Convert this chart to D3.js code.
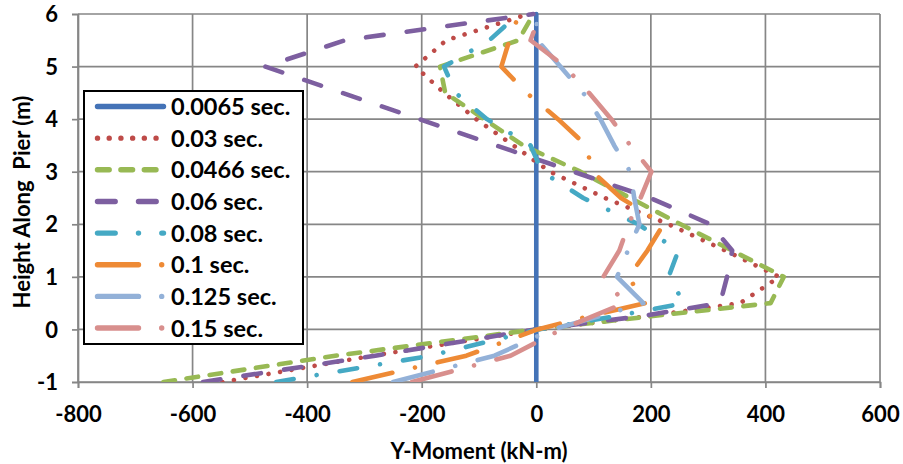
<!DOCTYPE html>
<html>
<head>
<meta charset="utf-8">
<script src="https://cdn.jsdelivr.net/npm/d3@7"></script>
<style>
  html, body { margin: 0; padding: 0; background: #fff; }
  svg { display: block; }
  text { font-family: Lato, "Open Sans", "Liberation Sans", sans-serif; font-weight: bold; fill: #000; }
</style>
</head>
<body>
<svg id="chart" width="903" height="464"></svg>
<script>
// ---------- data ----------
const heights = [-1, -0.5, 0, 0.25, 0.5, 1, 1.5, 2, 2.5, 3, 3.5, 4, 4.5, 5, 5.5, 6];
const seriesNames = ["0.0065 sec.", "0.03 sec.", "0.0466 sec.", "0.06 sec.", "0.08 sec.", "0.1 sec.", "0.125 sec.", "0.15 sec."];
const m0065 = [0, 0, 0, 0, 0, 0, 0, 0, 0, 0, 0, 0, 0, 0, 0, 0];
const m003  = [-548, -286, 2, 194, 356, 424, 330, 231, 120, 24, -40, -105, -161, -211, -157, -14];
const m0466 = [-651, -351, -2, 200, 409, 432, 342, 252, 164, 77, -23, -91, -159, -168, -31, -5];
const m006  = [-582, -281, -2, 182, 321, 333, 342, 304, 199, 65, -70, -204, -339, -473, -334, -5];
const m008  = [-454, -185, 3, 138, 258, 231, 248, 178, 82, 10, -10, -86, -141, -161, -82, -31];
const m01   = [-321, -122, 2, 91, 190, 161, 194, 222, 148, 98, 87, 38, -17, -61, -47, -30];
const m0125 = [-250, -73, 28, 110, 187, 141, 160, 180, 171, 164, 136, 112, 82, 42, 2, 0];
const m015  = [-217, -45, 44, 98, 154, 117, 145, 161, 182, 201, 164, 131, 92, 50, -10, 7];
const seriesValues = [m0065, m003, m0466, m006, m008, m01, m0125, m015];
const xTicks = [-800, -600, -400, -200, 0, 200, 400, 600];
const yTicks = [-1, 0, 1, 2, 3, 4, 5, 6];

// ---------- styles ----------
const colors = ["#4473B7", "#BE4B48", "#98B954", "#7D5FA0", "#45A9C4", "#EE8A35", "#93B1D8", "#D88F8D"];
const dashes = [null, "0.01,11.7", "11.7,11.7", "17.7,23.3", "17.7,23.3,0.01,23.3",
                "41,23.2,0.01,23.2", "41,23.2,0.01,23.2", "41,23.2,0.01,23.2"];
const lineW = 4.6;

const svg = d3.select("#chart");
const L = 78, R = 880, T = 14, B = 382;
const x = d3.scaleLinear().domain([-800, 600]).range([L, R]);
const y = d3.scaleLinear().domain([-1, 6]).range([B, T]);
const gridColor = "#868686";

// gridlines
const grid = svg.append("g");
grid.selectAll("line.v").data(xTicks).enter().append("line")
  .attr("x1", d => x(d)).attr("x2", d => x(d)).attr("y1", T).attr("y2", B)
  .attr("stroke", gridColor).attr("stroke-width", 1.7);
grid.selectAll("line.h").data(yTicks).enter().append("line")
  .attr("x1", L).attr("x2", R).attr("y1", d => y(d)).attr("y2", d => y(d))
  .attr("stroke", gridColor).attr("stroke-width", 1.7);

// axes
const fmt = d => String(d);
const xAxis = d3.axisBottom(x).tickValues(xTicks).tickSize(6).tickPadding(15).tickFormat(fmt);
const yAxis = d3.axisLeft(y).tickValues(yTicks).tickSize(6).tickPadding(14).tickFormat(fmt);
const gx = svg.append("g").attr("transform", `translate(0,${B})`).call(xAxis);
const gy = svg.append("g").attr("transform", `translate(${L},0)`).call(yAxis);
[gx, gy].forEach(g => {
  g.select(".domain").attr("stroke", gridColor).attr("stroke-width", 1.7);
  g.selectAll(".tick line").attr("stroke", gridColor).attr("stroke-width", 1.7);
  g.selectAll(".tick text").style("font-family", "Lato, 'Open Sans', sans-serif")
    .style("font-weight", "bold").style("font-size", "22px").attr("fill", "#000");
});
gx.selectAll(".tick text").attr("dy", "0.85em");
gy.selectAll(".tick text").attr("dy", "0.35em");

// clip
svg.append("clipPath").attr("id", "clip").append("rect")
  .attr("x", L).attr("y", T - 3).attr("width", R - L).attr("height", B - T + 3);

// series
const lineGen = d3.line().x(d => x(d[0])).y(d => y(d[1]));
const plot = svg.append("g").attr("clip-path", "url(#clip)");
seriesValues.forEach((vals, i) => {
  const pts = vals.map((v, k) => [v, heights[k]]);
  plot.append("path").datum(pts)
    .attr("d", lineGen)
    .attr("fill", "none")
    .attr("stroke", colors[i])
    .attr("stroke-width", lineW)
    .attr("stroke-linecap", "round")
    .attr("stroke-linejoin", "round")
    .attr("stroke-dasharray", dashes[i]);
});

// axis titles
svg.append("text").attr("x", (L + R) / 2).attr("y", 459).attr("text-anchor", "middle")
  .style("font-size", "22px").text("Y-Moment (kN-m)");
svg.append("text").attr("transform", `translate(30,${(T + B) / 2 + 4}) rotate(-90)`)
  .attr("text-anchor", "middle").style("font-size", "22px").style("white-space", "pre")
  .text("Height Along  Pier (m)");

// legend
const leg = svg.append("g");
leg.append("rect").attr("x", 84).attr("y", 91).attr("width", 219).attr("height", 253)
  .attr("fill", "#fff").attr("stroke", "#000").attr("stroke-width", 2);
const legY0 = 106.5, legDy = 31.65;
seriesNames.forEach((name, i) => {
  const ly = legY0 + i * legDy;
  leg.append("line").attr("x1", 97.5).attr("x2", 163.5).attr("y1", ly).attr("y2", ly)
    .attr("stroke", colors[i]).attr("stroke-width", 5.4)
    .attr("stroke-linecap", "round").attr("stroke-dasharray", dashes[i]);
  leg.append("text").attr("x", 171).attr("y", ly).attr("dy", "0.36em")
    .style("font-size", "23.5px").text(name);
});
</script>
</body>
</html>
